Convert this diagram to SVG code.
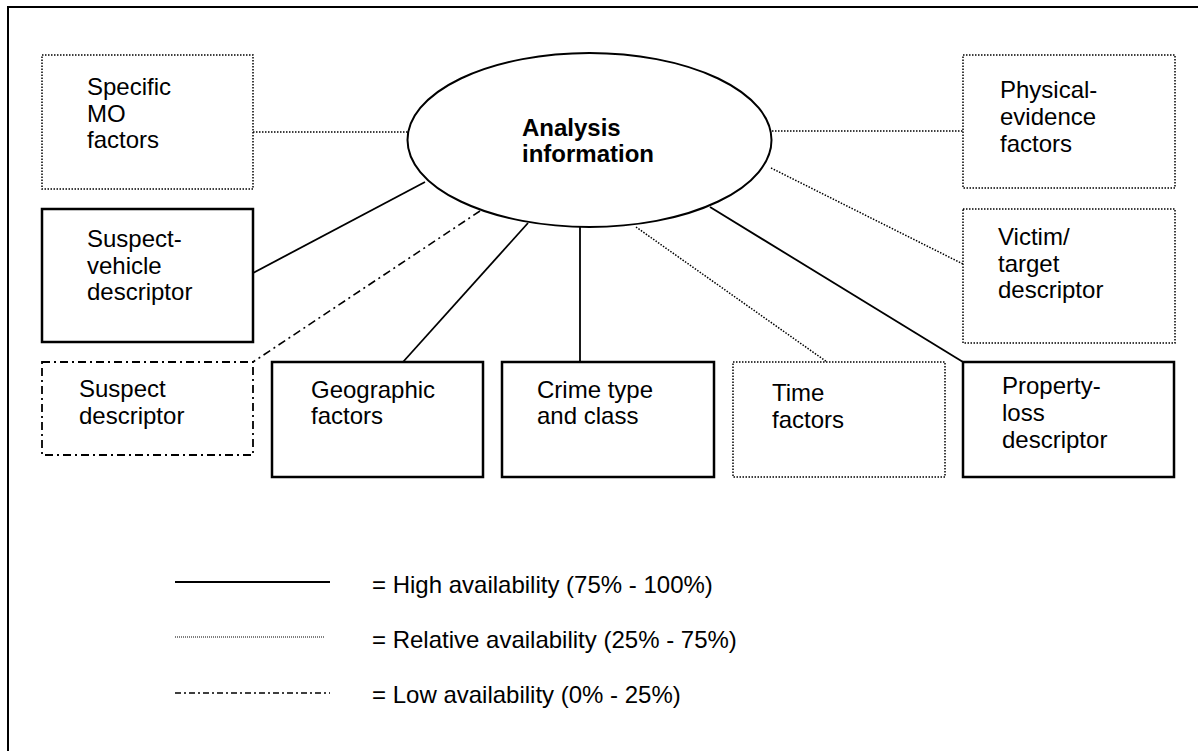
<svg xmlns="http://www.w3.org/2000/svg" width="1198" height="751" viewBox="0 0 1198 751">
<style>
text{font-family:"Liberation Sans",Arial,sans-serif;font-size:24px;fill:#000}
.b{font-weight:bold}
.solid{fill:#fff;stroke:#000;stroke-width:2.5}
.dot{fill:#fff;stroke:#000;stroke-width:1.5;stroke-dasharray:1.5 1.5}
.dd{fill:#fff;stroke:#000;stroke-width:1.8;stroke-dasharray:8 4 2 4}
.c{stroke:#000;fill:none;stroke-width:1.8}
.cd{stroke:#000;fill:none;stroke-width:1.5;stroke-dasharray:1.5 1.5}
.cdd{stroke:#000;fill:none;stroke-width:1.6;stroke-dasharray:8 4 2 4}
</style>
<rect width="1198" height="751" fill="#fff"/>
<path d="M8,751 V7 H1198" fill="none" stroke="#000" stroke-width="2"/>
<g id="connectors">
<line class="cd" x1="253" y1="132" x2="408" y2="132"/>
<line class="cd" x1="772" y1="131" x2="963" y2="131"/>
<line class="cd" x1="771" y1="168" x2="963" y2="264"/>
<line class="c" x1="425" y1="182" x2="253" y2="273"/>
<line class="cdd" x1="480" y1="211" x2="253" y2="362"/>
<line class="c" x1="528" y1="223" x2="403" y2="362"/>
<line class="c" x1="580" y1="227" x2="580" y2="362"/>
<line class="cd" x1="636" y1="227" x2="827" y2="362"/>
<line class="c" x1="710" y1="207" x2="963" y2="362"/>
</g>
<g id="center"><ellipse cx="589.5" cy="140" rx="182" ry="87" fill="#fff" stroke="#000" stroke-width="2"/>
<text class="b" x="522" y="136">Analysis</text><text class="b" x="522" y="162">information</text></g>
<g id="mo"><rect class="dot" x="42" y="55" width="211" height="134"/>
<text x="87" y="95">Specific</text><text x="87" y="122">MO</text><text x="87" y="148">factors</text></g>
<g id="vehicle"><rect class="solid" x="42" y="209" width="211" height="133"/>
<text x="87" y="247">Suspect-</text><text x="87" y="274">vehicle</text><text x="87" y="300">descriptor</text></g>
<g id="suspect"><rect class="dd" x="42" y="362" width="211" height="93"/>
<text x="79" y="397">Suspect</text><text x="79" y="424">descriptor</text></g>
<g id="geo"><rect class="solid" x="272" y="362" width="211" height="115"/>
<text x="311" y="398">Geographic</text><text x="311" y="424">factors</text></g>
<g id="crime"><rect class="solid" x="502" y="362" width="212" height="115"/>
<text x="537" y="398">Crime type</text><text x="537" y="424">and class</text></g>
<g id="time"><rect class="dot" x="733" y="362" width="212" height="115"/>
<text x="772" y="401">Time</text><text x="772" y="428">factors</text></g>
<g id="property"><rect class="solid" x="963" y="362" width="211" height="115"/>
<text x="1002" y="394">Property-</text><text x="1002" y="421">loss</text><text x="1002" y="448">descriptor</text></g>
<g id="physical"><rect class="dot" x="963" y="55" width="212" height="133"/>
<text x="1000" y="98">Physical-</text><text x="1000" y="125">evidence</text><text x="1000" y="152">factors</text></g>
<g id="victim"><rect class="dot" x="963" y="209" width="212" height="134"/>
<text x="998" y="245">Victim/</text><text x="998" y="272">target</text><text x="998" y="298">descriptor</text></g>
<g id="legend">
<line x1="175" y1="582" x2="330" y2="582" stroke="#000" stroke-width="2"/>
<line x1="175" y1="637" x2="325" y2="637" stroke="#000" stroke-width="1.2" stroke-dasharray="1 1"/>
<line x1="175" y1="693" x2="330" y2="693" stroke="#000" stroke-width="1.5" stroke-dasharray="6 3 2 3"/>
<text x="372" y="593">= High availability (75% - 100%)</text>
<text x="372" y="648">= Relative availability (25% - 75%)</text>
<text x="372" y="703">= Low availability (0% - 25%)</text>
</g>
</svg>
